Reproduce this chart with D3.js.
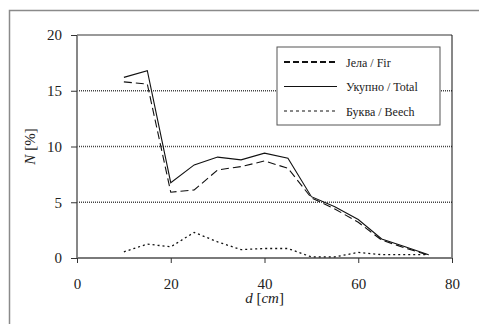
<!DOCTYPE html>
<html>
<head>
<meta charset="utf-8">
<script src="https://cdn.jsdelivr.net/npm/d3@7"></script>
<style>
  body { margin: 0; background: #fff; }
  text { font-family: "Liberation Serif", "Times New Roman", Tinos, "DejaVu Serif", serif; fill: #222; }
</style>
</head>
<body>
<svg id="chart" width="479" height="324"></svg>
<script>
// diameter classes (cm)
const diameters = [10, 15, 20, 25, 30, 35, 40, 45, 50, 55, 60, 65, 70, 75];
const fir   = [15.8, 15.6, 5.9, 6.1, 7.9, 8.2, 8.7, 8.05, 5.4, 4.4, 3.2, 1.6, 0.9, 0.25];
const total = [16.2, 16.8, 6.75, 8.35, 9.05, 8.8, 9.4, 8.95, 5.5, 4.6, 3.45, 1.7, 1.0, 0.3];
const beech = [0.55, 1.25, 1.0, 2.3, 1.45, 0.75, 0.85, 0.85, 0.1, 0.1, 0.5, 0.3, 0.3, 0.3];
const xTicks = [0, 20, 40, 60, 80];
const yTicks = [0, 5, 10, 15, 20];
const legendLabels = ["Јела / Fir", "Укупно / Total", "Буква / Beech"];

const serif = '"Liberation Serif", "Times New Roman", Tinos, "DejaVu Serif", serif';
const svg = d3.select('#chart');
const plotLeft = 77, plotRight = 452, plotTop = 35, plotBottom = 258;

const x = d3.scaleLinear().domain([0, 80]).range([plotLeft, plotRight]);
const y = d3.scaleLinear().domain([0, 20]).range([plotBottom, plotTop]);

// outer frame (runs off the picture on right and bottom)
svg.append('rect')
    .attr('x', 9.5).attr('y', 10.5).attr('width', 480).attr('height', 330)
    .attr('fill', 'none').attr('stroke', '#8a8a8a').attr('stroke-width', 1.5);

// grid lines
svg.append('g').selectAll('line')
    .data([5, 10, 15])
    .enter().append('line')
    .attr('x1', plotLeft).attr('x2', plotRight)
    .attr('y1', d => y(d)).attr('y2', d => y(d))
    .attr('stroke', '#444').attr('stroke-width', 1.3)
    .attr('stroke-dasharray', '1,1');

// plot border top + right
svg.append('line').attr('x1', plotLeft).attr('x2', plotRight).attr('y1', y(20)).attr('y2', y(20))
    .attr('stroke', '#777').attr('stroke-width', 1.3);
svg.append('line').attr('x1', plotRight).attr('x2', plotRight).attr('y1', y(20)).attr('y2', plotBottom)
    .attr('stroke', '#111').attr('stroke-width', 1);

// axes
const yAxis = svg.append('g')
    .attr('transform', 'translate(' + plotLeft + ',0)')
    .call(d3.axisLeft(y).tickValues(yTicks).tickSize(6).tickPadding(9));
const xAxis = svg.append('g')
    .attr('transform', 'translate(0,' + plotBottom + ')')
    .call(d3.axisBottom(x).tickValues(xTicks).tickSize(5).tickPadding(15));

[yAxis, xAxis].forEach(a => {
    a.attr('font-family', serif).attr('font-size', 15);
    a.select('.domain').attr('stroke', '#7a7a7a').attr('stroke-width', 1.8);
    a.selectAll('.tick line').attr('stroke', '#333').attr('stroke-width', 1);
    a.selectAll('.tick text').attr('fill', '#222');
});
yAxis.select('.domain').attr('d', 'M0,' + plotBottom + 'V' + plotTop);
xAxis.select('.domain').attr('d', 'M' + plotLeft + ',0H' + plotRight);

// axis titles
svg.append('text')
    .attr('x', x(40)).attr('y', 303)
    .attr('text-anchor', 'middle')
    .attr('font-size', 15)
    .html('<tspan font-style="italic">d</tspan> [<tspan font-style="italic">cm</tspan>]');

svg.append('text')
    .attr('transform', 'translate(35,' + ((plotTop + plotBottom) / 2) + ') rotate(-90)')
    .attr('text-anchor', 'middle')
    .attr('font-size', 15)
    .html('<tspan font-style="italic">N</tspan> [%]');

// series
const line = d3.line().x((d, i) => x(diameters[i])).y(d => y(d));
const series = [
    { values: fir,   dash: '8,4', width: 1.1 },
    { values: total, dash: null,  width: 1.1 },
    { values: beech, dash: '2,3', width: 1.3 }
];
svg.append('g').selectAll('path')
    .data(series)
    .enter().append('path')
    .attr('d', d => line(d.values))
    .attr('fill', 'none')
    .attr('stroke', '#111')
    .attr('stroke-width', d => d.width)
    .attr('stroke-dasharray', d => d.dash);

// legend
const lg = svg.append('g');
lg.append('rect')
    .attr('x', 277).attr('y', 47).attr('width', 163).attr('height', 78)
    .attr('fill', '#fff').attr('stroke', '#555').attr('stroke-width', 1);
const legendStyles = [
    { dash: '6,3', width: 2 },
    { dash: null, width: 1 },
    { dash: '3,3', width: 1 }
];
legendLabels.forEach((label, i) => {
    const cy = 62 + i * 24.5;
    lg.append('line')
        .attr('x1', 284).attr('x2', 337).attr('y1', cy).attr('y2', cy)
        .attr('stroke', '#111')
        .attr('stroke-width', legendStyles[i].width)
        .attr('stroke-dasharray', legendStyles[i].dash);
    lg.append('text')
        .attr('x', 346).attr('y', cy + 4.5)
        .attr('font-size', 12)
        .text(label);
});
</script>
</body>
</html>
